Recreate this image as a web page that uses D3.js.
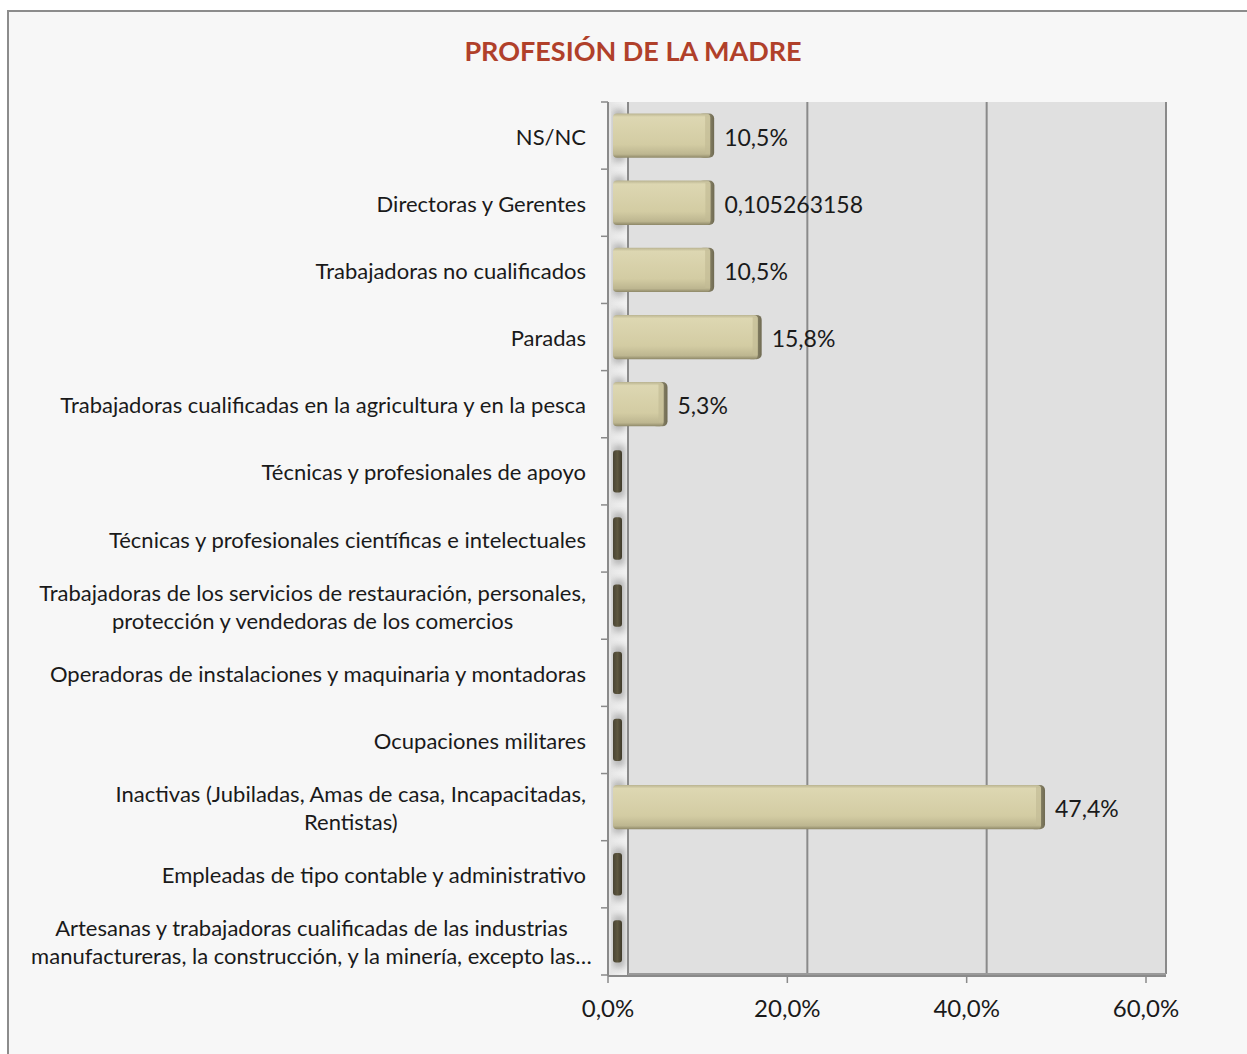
<!DOCTYPE html>
<html>
<head>
<meta charset="utf-8">
<script src="https://cdn.jsdelivr.net/npm/d3@7"></script>
<style>
  body { margin: 0; background: #ffffff; }
  svg { display: block; }
</style>
</head>
<body>
<svg id="chart"></svg>
<script>
// categories, top to bottom ("\n" = line break in the label)
const categories = [
  "NS/NC",
  "Directoras y Gerentes",
  "Trabajadoras no cualificados",
  "Paradas",
  "Trabajadoras cualificadas en la agricultura y en la pesca",
  "Técnicas y profesionales de apoyo",
  "Técnicas y profesionales científicas e intelectuales",
  "Trabajadoras de los servicios de restauración, personales,\nprotección y vendedoras de los comercios",
  "Operadoras de instalaciones y maquinaria y montadoras",
  "Ocupaciones militares",
  "Inactivas (Jubiladas, Amas de casa, Incapacitadas,\nRentistas)",
  "Empleadas de tipo contable y administrativo",
  "Artesanas y trabajadoras cualificadas de las industrias\nmanufactureras, la construcción, y la minería, excepto las…"
];
const values = [10.5, 10.5263158, 10.5, 15.8, 5.3, 0, 0, 0, 0, 0, 47.4, 0, 0];
const valueLabels = ["10,5%", "0,105263158", "10,5%", "15,8%", "5,3%", "", "", "", "", "", "47,4%", "", ""];
const xTicks = [0, 20, 40, 60];
const title = "PROFESIÓN DE LA MADRE";

const W = 1247, H = 1054;
const plot = { left: 608, right: 1146, top: 102, bottom: 975 };
const depth = 20; // horizontal offset of the back wall
const font = "Lato, 'Open Sans', sans-serif";

const svg = d3.select("#chart").attr("width", W).attr("height", H);
const defs = svg.append("defs");

// background + outer border
svg.append("rect").attr("width", W).attr("height", H).attr("fill", "#ffffff");
svg.append("rect").attr("x", 8).attr("y", 11).attr("width", W + 20).attr("height", H + 20)
  .attr("fill", "#f7f7f7").attr("stroke", "#8c8c8c").attr("stroke-width", 2);

const x = d3.scaleLinear().domain([0, 60]).range([plot.left, plot.right]);
const y = d3.scaleBand().domain(categories).range([plot.top, plot.bottom]).paddingInner(0.34).paddingOuter(0.17);
const yb = d3.scaleBand().domain(categories).range([plot.top, plot.bottom]);

// title
svg.append("text").attr("x", 633).attr("y", 61).attr("text-anchor", "middle")
  .attr("font-family", font).attr("font-weight", "bold")
  .attr("font-size", 27).attr("fill", "#b0402a").text(title);

// back wall
svg.append("rect").attr("x", x(0) + depth).attr("y", plot.top).attr("width", x(60) - x(0))
  .attr("height", plot.bottom - plot.top).attr("fill", "#e0e0e0");
// left side wall
const wallGrad = defs.append("linearGradient").attr("id", "wallGrad").attr("x1", 0).attr("x2", 1);
wallGrad.append("stop").attr("offset", "0%").attr("stop-color", "#e4e4e4");
wallGrad.append("stop").attr("offset", "100%").attr("stop-color", "#f2f2f2");
svg.append("rect").attr("x", x(0)).attr("y", plot.top).attr("width", depth)
  .attr("height", plot.bottom - plot.top).attr("fill", "url(#wallGrad)");

// shadows of bars on the side wall
defs.append("filter").attr("id", "blur").append("feGaussianBlur").attr("stdDeviation", 3);
svg.append("g").selectAll("rect").data(categories).join("rect")
  .attr("x", x(0) + 5).attr("y", d => y(d) - 4).attr("width", 12).attr("height", y.bandwidth() + 8)
  .attr("fill", "#a8a8a8").attr("filter", "url(#blur)").attr("opacity", 0.8);

// gridlines on the back wall
svg.append("g").selectAll("line").data(xTicks.slice(1)).join("line")
  .attr("x1", d => x(d) + depth).attr("x2", d => x(d) + depth)
  .attr("y1", plot.top).attr("y2", plot.bottom - 1)
  .attr("stroke", "#8a8a8a").attr("stroke-width", 2);
svg.append("line").attr("x1", x(0) + depth).attr("x2", x(0) + depth)
  .attr("y1", plot.top).attr("y2", plot.bottom).attr("stroke", "#8a8a8a").attr("stroke-width", 2);
svg.append("line").attr("x1", x(0) + depth).attr("x2", x(60) + depth)
  .attr("y1", plot.bottom - 1).attr("y2", plot.bottom - 1).attr("stroke", "#9a9a9a").attr("stroke-width", 2);

// bars
const barGrad = defs.append("linearGradient").attr("id", "barGrad").attr("x1", 0).attr("x2", 0).attr("y1", 0).attr("y2", 1);
barGrad.append("stop").attr("offset", "0%").attr("stop-color", "#b9b390");
barGrad.append("stop").attr("offset", "8%").attr("stop-color", "#ddd7b2");
barGrad.append("stop").attr("offset", "70%").attr("stop-color", "#d3cca3");
barGrad.append("stop").attr("offset", "92%").attr("stop-color", "#bdb690");
barGrad.append("stop").attr("offset", "100%").attr("stop-color", "#8e8868");
const endGrad = defs.append("linearGradient").attr("id", "endGrad").attr("x1", 0).attr("x2", 1);
endGrad.append("stop").attr("offset", "0%").attr("stop-color", "#bcb590");
endGrad.append("stop").attr("offset", "100%").attr("stop-color", "#6f6a52");
const zeroGrad = defs.append("linearGradient").attr("id", "zeroGrad").attr("x1", 0).attr("x2", 1);
zeroGrad.append("stop").attr("offset", "0%").attr("stop-color", "#4a4534");
zeroGrad.append("stop").attr("offset", "50%").attr("stop-color", "#5e573f");
zeroGrad.append("stop").attr("offset", "100%").attr("stop-color", "#3f3a2a");

const bars = svg.append("g").selectAll("g").data(categories).join("g");
bars.each(function (d, i) {
  const g = d3.select(this);
  const v = values[i];
  const y0 = y(d), h = y.bandwidth();
  if (v === 0) {
    g.append("rect").attr("x", x(0) + 5).attr("y", y0 + 1).attr("width", 9).attr("height", h - 2)
      .attr("rx", 3).attr("fill", "url(#zeroGrad)");
    return;
  }
  const x0 = x(0) + 5, x1 = x(v) + 12;
  g.append("rect").attr("x", x1 - 16).attr("y", y0).attr("width", 16).attr("height", h)
    .attr("rx", 5).attr("fill", "url(#endGrad)");
  g.append("rect").attr("x", x0).attr("y", y0).attr("width", x1 - x0 - 4).attr("height", h)
    .attr("rx", 4).attr("fill", "url(#barGrad)");
  g.append("rect").attr("x", x1 - 9).attr("y", y0 + 2).attr("width", 5).attr("height", h - 6)
    .attr("fill", "#c3bc95").attr("opacity", 0.7);
});

// value labels
svg.append("g").selectAll("text").data(categories).join("text")
  .attr("x", (d, i) => x(values[i]) + 22)
  .attr("y", d => y(d) + y.bandwidth() / 2 + 10)
  .attr("font-family", font).attr("font-size", 23)
  .attr("fill", "#1a1a1a")
  .text((d, i) => valueLabels[i]);

// left (category) axis
svg.append("line").attr("x1", plot.left).attr("x2", plot.left).attr("y1", plot.top).attr("y2", plot.bottom + 1)
  .attr("stroke", "#8a8a8a").attr("stroke-width", 2);
svg.append("g").selectAll("line").data(d3.range(categories.length + 1)).join("line")
  .attr("x1", plot.left - 7).attr("x2", plot.left)
  .attr("y1", i => plot.top + i * yb.step()).attr("y2", i => plot.top + i * yb.step())
  .attr("stroke", "#8a8a8a").attr("stroke-width", 1.5);

const catLabels = svg.append("g").attr("font-family", font)
  .attr("font-size", 22).attr("fill", "#1a1a1a");
categories.forEach(function (c) {
  const lines = c.split("\n");
  const cy = yb(c) + yb.bandwidth() / 2;
  const t = catLabels.append("text").attr("text-anchor", "middle");
  lines.forEach((ln, k) => {
    t.append("tspan").attr("y", cy + 9 + (k - (lines.length - 1) / 2) * 28).text(ln);
  });
  // right-align the whole block at x = 586 (lines centered inside it);
  // blocks wider than the label area are centered in that area
  const w = Math.min(549, d3.max(t.selectAll("tspan").nodes(), n => n.getComputedTextLength()));
  t.selectAll("tspan").attr("x", 586 - w / 2);
});

// bottom (value) axis
svg.append("line").attr("x1", plot.left).attr("x2", plot.right + depth).attr("y1", plot.bottom + 1).attr("y2", plot.bottom + 1)
  .attr("stroke", "#8a8a8a").attr("stroke-width", 2);
svg.append("g").selectAll("line").data(xTicks).join("line")
  .attr("x1", d => x(d)).attr("x2", d => x(d)).attr("y1", plot.bottom).attr("y2", plot.bottom + 8)
  .attr("stroke", "#8a8a8a").attr("stroke-width", 1.5);
svg.append("g").selectAll("text").data(xTicks).join("text")
  .attr("x", d => x(d)).attr("y", 1017).attr("text-anchor", "middle")
  .attr("font-family", font).attr("font-size", 24).attr("fill", "#1a1a1a")
  .text(d => d.toFixed(1).replace(".", ",") + "%");
</script>
</body>
</html>
